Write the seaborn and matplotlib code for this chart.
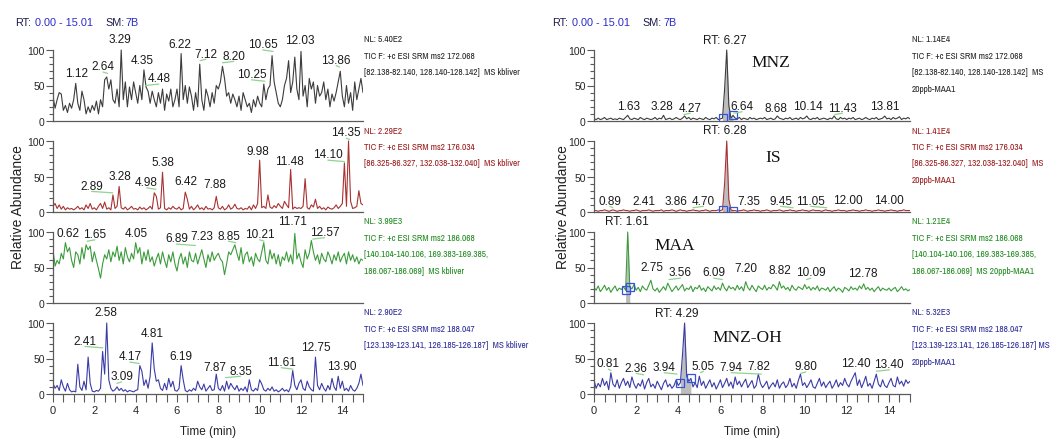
import numpy as np
import matplotlib
matplotlib.use("Agg")
import matplotlib.pyplot as plt
from matplotlib import font_manager
import seaborn as sns

# retention time grid: one reading every 0.1 min, 0-15 min
rt = np.round(np.arange(151) * 0.1, 1)

# relative abundance (%), 10 readings per minute
kb_172 = [35, 18, 30, 40, 38, 15, 22, 12, 25, 18,
          30, 53, 25, 15, 42, 30, 10, 20, 12, 22,
          15, 28, 10, 30, 20, 58, 62, 45, 58, 30,
          25, 45, 20, 100, 30, 55, 20, 48, 30, 55,
          40, 25, 50, 30, 72, 48, 42, 25, 42, 30,
          20, 40, 25, 45, 15, 38, 28, 45, 20, 30,
          45, 20, 95, 30, 50, 25, 48, 35, 15, 40,
          20, 80, 30, 15, 45, 35, 20, 40, 25, 50,
          45, 55, 77, 60, 35, 40, 25, 38, 30, 20,
          35, 15, 40, 30, 20, 25, 12, 30, 20, 35,
          25, 20, 52, 30, 45, 50, 92, 55, 40, 25,
          20, 30, 50, 60, 85, 40, 55, 90, 45, 30,
          98, 35, 50, 20, 60, 45, 55, 25, 50, 35,
          40, 55, 30, 45, 20, 38, 28, 40, 55, 70,
          35, 20, 50, 25, 40, 15, 55, 30, 45, 60,
          40]
kb_176 = [8, 12, 5, 10, 4, 8, 3, 6, 4, 5,
          3, 5, 8, 4, 6, 3, 10, 5, 12, 4,
          6, 3, 8, 12, 5, 14, 4, 6, 3, 24,
          5, 8, 36, 6, 4, 7, 3, 5, 8, 4,
          5, 3, 7, 4, 6, 3, 5, 8, 4, 27,
          22, 4, 6, 56, 5, 3, 6, 4, 8, 5,
          4, 7, 3, 5, 28, 18, 4, 8, 3, 6,
          10, 4, 6, 3, 8, 4, 5, 3, 6, 22,
          6, 4, 8, 3, 5, 10, 4, 6, 11, 5,
          4, 6, 3, 5, 4, 8, 3, 10, 5, 12,
          73, 6, 8, 5, 24, 7, 5, 9, 6, 12,
          8, 5, 15, 10, 6, 60, 4, 7, 5, 6,
          5, 8, 47, 6, 4, 10, 7, 18, 5, 8,
          4, 6, 3, 7, 5, 4, 6, 10, 5, 8,
          12, 69, 8, 100, 15, 5, 6, 8, 30, 12,
          10]
kb_186 = [75, 52, 60, 55, 70, 62, 85, 72, 78, 60,
          50, 72, 68, 55, 78, 62, 82, 75, 80, 58,
          72, 60, 48, 35, 55, 68, 62, 75, 58, 72,
          65, 80, 60, 72, 55, 78, 65, 58, 70, 62,
          85, 70, 78, 55, 72, 60, 75, 58, 65, 52,
          62, 70, 55, 72, 60, 50, 68, 58, 72, 55,
          45, 62, 70, 55, 65, 50, 72, 60, 58, 70,
          55, 65, 75, 62, 50, 68, 58, 72, 60, 66,
          70, 62, 58, 40, 55, 72, 68, 75, 82, 70,
          60, 78, 55, 68, 72, 58, 65, 52, 70, 62,
          58, 72, 85, 60, 55, 75, 62, 70, 55, 68,
          52, 65, 60, 72, 58, 68, 55, 98, 62, 70,
          58, 50, 75, 62, 70, 88, 72, 60, 68, 55,
          70, 62, 58, 72, 65, 55, 68, 60, 72, 58,
          65, 70, 55, 72, 60, 68, 58, 65, 55, 62,
          60]
kb_188 = [15, 8, 12, 5, 20, 10, 4, 15, 6, 3,
          4, 3, 42, 10, 5, 18, 6, 52, 15, 4,
          3, 5, 4, 8, 60, 28, 100, 20, 8, 4,
          6, 10, 5, 8, 4, 6, 3, 5, 4, 3,
          5, 6, 40, 32, 12, 20, 8, 25, 72, 35,
          18, 20, 8, 5, 15, 6, 22, 10, 18, 5,
          4, 8, 40, 20, 5, 3, 6, 4, 8, 5,
          18, 10, 6, 14, 4, 8, 12, 5, 6, 28,
          8, 5, 12, 4, 18, 7, 15, 10, 6, 12,
          4, 8, 5, 10, 3, 20, 6, 4, 8, 5,
          20, 14, 6, 4, 8, 5, 10, 4, 6, 3,
          5, 8, 4, 6, 3, 10, 33, 12, 6, 15,
          20, 8, 5, 18, 10, 6, 4, 52, 12, 6,
          15, 8, 4, 12, 6, 22, 10, 5, 25, 8,
          18, 5, 8, 4, 12, 6, 4, 8, 15, 28,
          12]

sp_172 = [3, 2, 4, 2, 3, 5, 2, 3, 4, 2,
          3, 2, 4, 3, 2, 5, 8, 3, 2, 4,
          3, 2, 5, 3, 2, 4, 3, 2, 3, 5,
          2, 4, 3, 8, 2, 3, 4, 2, 3, 5,
          3, 2, 4, 7, 3, 5, 2, 4, 3, 2,
          4, 3, 2, 5, 3, 2, 4, 3, 5, 2,
          3, 4, 45, 100, 22, 4, 8, 4, 3, 5,
          2, 4, 3, 2, 5, 3, 4, 2, 3, 4,
          3, 5, 2, 3, 4, 2, 3, 7, 4, 3,
          2, 4, 3, 5, 2, 3, 4, 2, 5, 3,
          4, 7, 3, 2, 4, 3, 5, 2, 3, 4,
          3, 2, 4, 3, 7, 3, 2, 5, 3, 4,
          2, 4, 3, 5, 2, 3, 4, 2, 3, 5,
          3, 2, 4, 3, 5, 2, 3, 4, 7, 3,
          4, 2, 5, 3, 4, 6, 2, 4, 3, 5,
          3]
sp_176 = [2, 2, 1, 2, 2, 3, 2, 1, 2, 3,
          2, 1, 2, 2, 3, 2, 2, 1, 2, 2,
          3, 2, 1, 2, 2, 2, 3, 2, 1, 2,
          2, 2, 3, 1, 2, 2, 2, 3, 2, 1,
          2, 3, 2, 2, 1, 2, 2, 3, 2, 2,
          1, 2, 2, 3, 2, 1, 2, 2, 2, 3,
          2, 3, 40, 100, 18, 3, 2, 2, 1, 2,
          2, 3, 2, 1, 2, 2, 3, 2, 2, 1,
          2, 2, 3, 2, 1, 2, 2, 2, 3, 2,
          1, 2, 2, 3, 2, 2, 1, 2, 2, 3,
          2, 2, 1, 2, 3, 2, 2, 2, 1, 2,
          3, 2, 2, 1, 2, 2, 3, 2, 2, 2,
          1, 2, 2, 3, 2, 2, 1, 2, 2, 3,
          2, 2, 1, 2, 2, 3, 2, 2, 1, 2,
          2, 3, 2, 2, 1, 2, 2, 3, 2, 2,
          2]
sp_186 = [22, 18, 24, 16, 20, 25, 18, 22, 15, 20,
          24, 17, 21, 19, 23, 18, 100, 22, 20, 26,
          18, 22, 16, 24, 20, 18, 25, 32, 20, 17,
          21, 15, 19, 23, 18, 28, 22, 16, 20, 24,
          18, 22, 26, 17, 21, 19, 24, 16, 22, 20,
          25, 18, 21, 16, 23, 20, 17, 24, 19, 22,
          18, 28, 21, 17, 24, 20, 22, 18, 25, 19,
          23, 17, 30, 22, 18, 25, 20, 16, 24, 21,
          19, 25, 18, 22, 20, 26, 23, 18, 30, 21,
          24, 19, 22, 17, 25, 20, 18, 23, 21, 19,
          26, 20, 23, 18, 22, 19, 24, 17, 21, 20,
          18, 22, 16, 20, 23, 17, 21, 19, 15, 22,
          20, 17, 23, 19, 21, 18, 24, 20, 27, 19,
          22, 18, 21, 16, 20, 23, 17, 21, 19, 18,
          21, 17, 20, 22, 16, 19, 23, 18, 20, 17,
          19]
sp_188 = [20, 8, 15, 10, 22, 12, 18, 6, 30, 14,
          10, 20, 8, 16, 22, 12, 18, 9, 24, 14,
          8, 15, 11, 20, 7, 16, 22, 10, 14, 8,
          18, 12, 6, 15, 20, 10, 14, 8, 12, 20,
          12, 16, 55, 100, 25, 18, 22, 10, 16, 9,
          25, 12, 18, 8, 14, 20, 10, 16, 7, 13,
          20, 9, 15, 22, 11, 17, 8, 24, 13, 18,
          10, 16, 21, 9, 14, 19, 8, 12, 28, 15,
          9, 13, 18, 7, 12, 16, 10, 20, 8, 14,
          17, 9, 13, 22, 10, 15, 8, 19, 28, 12,
          16, 9, 14, 20, 10, 8, 15, 22, 11, 17,
          9, 14, 18, 8, 13, 20, 10, 16, 12, 22,
          14, 10, 18, 24, 30, 12, 20, 9, 16, 25,
          11, 15, 8, 18, 28, 14, 10, 20, 12, 9,
          16, 22, 12, 10, 24, 14, 18, 11, 20, 15,
          18]

# integration window (min) of the quantified peak in the spiked sample
sp_172_win = [6.1, 6.6]
sp_176_win = [6.1, 6.6]
sp_186_win = [1.5, 1.7]
sp_188_win = [4.1, 4.6]

# peak labels
kb_172_lab = ["1.12", "2.64", "3.29", "4.35", "4.48", "6.22", "7.12", "8.20", "10.25", "10.65", "12.03", "13.86"]
kb_176_lab = ["2.89", "3.28", "4.98", "5.38", "6.42", "7.88", "9.98", "11.48", "14.10", "14.35"]
kb_186_lab = ["0.62", "1.65", "4.05", "6.89", "7.23", "8.85", "10.21", "11.71", "12.57"]
kb_188_lab = ["2.58", "2.41", "3.09", "4.17", "4.81", "6.19", "7.87", "8.35", "11.61", "12.75", "13.90"]
sp_172_lab = ["RT: 6.27", "1.63", "3.28", "4.27", "6.64", "8.68", "10.14", "11.43", "13.81"]
sp_176_lab = ["RT: 6.28", "0.89", "2.41", "3.86", "4.70", "7.35", "9.45", "11.05", "12.00", "14.00"]
sp_186_lab = ["RT: 1.61", "2.75", "3.56", "6.09", "7.20", "8.82", "10.09", "12.78"]
sp_188_lab = ["RT: 4.29", "0.81", "2.36", "3.94", "5.05", "7.94", "7.82", "9.80", "12.40", "13.40"]

# trace header text
kb_info = [["NL: 5.40E2", "TIC F: +c ESI SRM ms2 172.068", "[82.138-82.140, 128.140-128.142]  MS kbliver"],
           ["NL: 2.29E2", "TIC F: +c ESI SRM ms2 176.034", "[86.325-86.327, 132.038-132.040]  MS kbliver"],
           ["NL: 3.99E3", "TIC F: +c ESI SRM ms2 186.068", "[140.104-140.106, 169.383-169.385,", "186.067-186.069]  MS kbliver"],
           ["NL: 2.90E2", "TIC F: +c ESI SRM ms2 188.047", "[123.139-123.141, 126.185-126.187]  MS kbliver"]]
sp_info = [["NL: 1.14E4", "TIC F: +c ESI SRM ms2 172.068", "[82.138-82.140, 128.140-128.142]  MS", "20ppb-MAA1"],
           ["NL: 1.41E4", "TIC F: +c ESI SRM ms2 176.034", "[86.325-86.327, 132.038-132.040]  MS", "20ppb-MAA1"],
           ["NL: 1.21E4", "TIC F: +c ESI SRM ms2 186.068", "[140.104-140.106, 169.383-169.385,", "186.067-186.069]  MS 20ppb-MAA1"],
           ["NL: 5.32E3", "TIC F: +c ESI SRM ms2 188.047", "[123.139-123.141, 126.185-126.187] MS", "20ppb-MAA1"]]
compounds = ["MNZ", "IS", "MAA", "MNZ-OH"]

# ---- layout (label text centres in data units, pixel geometry) ----
kb_172_pos = [(1.16, 67), (2.42, 77), (3.24, 115), (4.31, 86), (5.12, 60), (6.13, 109),
              (7.39, 95), (8.75, 92), (9.6, 66), (10.15, 108), (11.93, 114), (13.7, 86)]
kb_176_pos = [(1.87, 37), (3.24, 50), (4.53, 42), (5.33, 70), (6.41, 44), (7.82, 40),
              (9.92, 86), (11.45, 72), (13.3, 81), (14.19, 112)]
kb_186_pos = [(0.74, 99), (2.03, 97), (4.01, 99), (5.97, 91), (7.18, 94), (8.49, 95),
              (10.0, 97), (11.61, 115), (13.14, 100)]
kb_188_pos = [(2.56, 115), (1.55, 75), (3.32, 25), (3.72, 53), (4.81, 86), (6.18, 53),
              (7.83, 38), (9.07, 33), (11.05, 45), (12.7, 66), (13.95, 39)]
sp_172_pos = [(6.2, 114), (1.63, 21), (3.22, 21), (4.57, 19), (7.03, 21), (8.62, 19),
              (10.16, 21), (11.79, 19), (13.78, 21)]
sp_176_pos = [(6.2, 115), (0.76, 16), (2.35, 16), (3.9, 16), (5.2, 16), (7.35, 16),
              (8.86, 16), (10.29, 16), (12.03, 17), (14.02, 17)]
sp_186_pos = [(1.56, 115), (2.75, 50), (4.1, 43), (5.68, 43), (7.19, 49), (8.81, 47),
              (10.29, 43), (12.75, 42)]
sp_188_pos = [(3.95, 114), (0.68, 43), (2.0, 37), (3.33, 38), (5.2, 40), (6.51, 38),
              (7.83, 40), (10.05, 39), (12.43, 43), (14.02, 42)]
compound_pos = [(8.4, 83), (8.5, 77), (3.85, 82), (7.3, 80)]

W, H = 1063, 439
ROW_ZERO = [122, 213, 304, 395]   # pixel row of the 0 % line
PX_100 = 71                        # pixels from 0 % to 100 %
YTOP = 128
COLS = [(53, 363, 364), (594, 910, 912)]   # axis left, axis right, info text x

TRACE_C = ["#3c3c3c", "#a83232", "#3c9c3c", "#3b3ba8"]
TEXT_C = ["#262626", "#9a1c1c", "#1f8a1f", "#2b2b98"]
SPINE_C = "#5a5a5a"
LEAD_C = "#8fd48f"

sns.set_style("white")
plt.rcParams["font.family"] = ["Liberation Sans", "DejaVu Sans"]


# the instrument header uses a condensed face; take one if the system has it
def pick_info_font():
    cands = []
    for f in font_manager.fontManager.ttflist:
        if f.style != "normal" or f.weight not in (400, "normal", "regular"):
            continue
        if "Narrow" in f.name:
            cands.append((0, f))
        elif "Condensed" in f.name or f.stretch in ("condensed", "semi-condensed"):
            cands.append((1, f))
    if cands:
        cands.sort(key=lambda c: c[0])
        return font_manager.FontProperties(fname=cands[0][1].fname, size=6.7)
    return font_manager.FontProperties(family="Liberation Sans", size=5.9)


INFO_FP = pick_info_font()

fig = plt.figure(figsize=(W / 100, H / 100), dpi=100)

kb_data = [kb_172, kb_176, kb_186, kb_188]
sp_data = [sp_172, sp_176, sp_186, sp_188]
kb_labs = [kb_172_lab, kb_176_lab, kb_186_lab, kb_188_lab]
sp_labs = [sp_172_lab, sp_176_lab, sp_186_lab, sp_188_lab]
kb_pos = [kb_172_pos, kb_176_pos, kb_186_pos, kb_188_pos]
sp_pos = [sp_172_pos, sp_176_pos, sp_186_pos, sp_188_pos]
sp_win = [sp_172_win, sp_176_win, sp_186_win, sp_188_win]


def draw_panel(col, row, values, labels, positions, info, window=None, name=None, name_pos=None):
    x0, x1, tx = COLS[col]
    y0 = ROW_ZERO[row]
    h = PX_100 * YTOP / 100
    ax = fig.add_axes([x0 / W, 1 - y0 / H, (x1 - x0) / W, h / H])
    ax.set_facecolor("none")
    vals = np.array(values, dtype=float)

    if window is not None:
        m = (rt >= window[0] - 1e-9) & (rt <= window[1] + 1e-9)
        ax.fill_between(rt, 0, vals, where=m, color="#bdbdbd", lw=0, zorder=1)
    sns.lineplot(x=rt, y=vals, ax=ax, color=TRACE_C[row], linewidth=0.8,
                 estimator=None, zorder=2)
    if window is not None:
        wy = np.interp(window, rt, vals)
        ax.plot(window, wy, ls="none", marker="s", ms=5.5, mfc="none",
                mec="#3355dd", mew=0.9, zorder=3)

    for txt, (lx, ly) in zip(labels, positions):
        ax.text(lx, ly, txt, ha="center", va="center", fontsize=8.5, color="#1a1a1a", zorder=4)
        if not txt.startswith("RT"):
            pt = float(txt)
            if abs(pt - lx) > 0.12:
                ax.plot([lx, pt], [ly - 8, ly - 10], color=LEAD_C, lw=0.9, zorder=3)

    if name is not None:
        ax.text(name_pos[0], name_pos[1], name, ha="center", va="center", fontsize=12.5,
                family=["Liberation Serif", "DejaVu Serif"], color="#111111")

    ax.set_xlim(0, 15)
    ax.set_ylim(0, YTOP)
    for s in ["top", "right"]:
        ax.spines[s].set_visible(False)
    for s in ["left", "bottom"]:
        ax.spines[s].set_color(SPINE_C)
        ax.spines[s].set_linewidth(0.9)
    ax.spines["left"].set_bounds(0, 100)
    ax.set_yticks([0, 50, 100])
    ax.set_yticks([10, 20, 30, 40, 60, 70, 80, 90], minor=True)
    ax.tick_params(axis="y", which="major", length=5, width=0.8, color=SPINE_C,
                   labelsize=7.5, pad=1, left=True)
    ax.tick_params(axis="y", which="minor", length=3, width=0.8, color=SPINE_C, left=True)
    if row == 3:
        ax.set_xticks(np.arange(0, 15, 2))
        ax.set_xticks(np.arange(0, 15.01, 0.5), minor=True)
        ax.tick_params(axis="x", which="both", length=6, width=0.8, color=SPINE_C,
                       labelsize=8, pad=2, bottom=True)
    else:
        ax.set_xticks([])
    ax.set_xlabel("")
    ax.set_ylabel("")

    # header text block to the right of the trace
    ty = y0 - PX_100 - 11
    for i, line in enumerate(info):
        fig.text(tx / W, 1 - (ty + i * 16.5) / H, line, ha="left", va="center",
                 fontproperties=INFO_FP, color=TEXT_C[row])
    return ax


for r in range(4):
    draw_panel(0, r, kb_data[r], kb_labs[r], kb_pos[r], kb_info[r])
    draw_panel(1, r, sp_data[r], sp_labs[r], sp_pos[r], sp_info[r],
               window=sp_win[r], name=compounds[r], name_pos=compound_pos[r])

# top-left range / smoothing header of each column
for hx in [15, 552]:
    parts = [("RT:", 0, "#1c1c4c"), ("0.00 - 15.01", 20, "#2a2acc"),
             ("SM:", 90, "#1c1c4c"), ("7B", 111, "#2a2acc")]
    for s, dx, c in parts:
        fig.text((hx + dx) / W, 1 - 23 / H, s, ha="left", va="center", fontsize=7.8, color=c)

for lx, cx in [(18, 208), (563, 752)]:
    fig.text(lx / W, 1 - 207 / H, "Relative Abundance", rotation=90, ha="center",
             va="center", fontsize=10, color="#222222")
    fig.text(cx / W, 1 - 432 / H, "Time (min)", ha="center", va="center",
             fontsize=8.5, color="#222222")

fig.savefig("out.png", dpi=100, facecolor="white")
